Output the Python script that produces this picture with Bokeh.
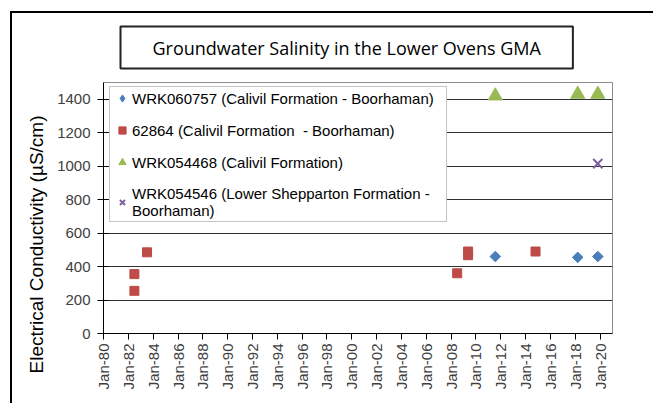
import math
import pandas as pd
from bokeh.plotting import figure
from bokeh.models import (FixedTicker, DatetimeTickFormatter, Title, Range1d,
                          ColumnDataSource, Legend, LegendItem)
from bokeh.embed import file_html
from bokeh.resources import INLINE

# ---------------- data ----------------
title_text = "Groundwater Salinity in the Lower Ovens GMA"
y_label = "Electrical Conductivity (\u00b5S/cm)"

s1_name = "WRK060757 (Calivil Formation - Boorhaman)"
s1_dates = ["2011-07-25", "2018-03-15", "2019-10-27"]
s1_vals = [460, 455, 460]

s2_name = "62864 (Calivil Formation  - Boorhaman)"
s2_dates = ["1982-06-28", "1982-06-28", "1983-07-05", "2008-06-28", "2009-05-15", "2009-05-15", "2014-10-20"]
s2_vals = [355, 255, 485, 360, 490, 468, 490]

s3_name = "WRK054468 (Calivil Formation)"
s3_dates = ["2011-07-25", "2018-03-15", "2019-10-27"]
s3_vals = [1420, 1430, 1430]

s4_name = "WRK054546 (Lower Shepparton Formation -\nBoorhaman)"
s4_dates = ["2019-10-27"]
s4_vals = [1015]

x_tick_years = list(range(1980, 2021, 2))
y_ticks = [0, 200, 400, 600, 800, 1000, 1200, 1400]
x_start, x_end = "1980-01-01", "2021-01-01"
y_start, y_end = 0, 1500

# ---------------- figure ----------------
def ms(d):
    return pd.Timestamp(d).value / 1e6

p = figure(width=653, height=403, x_axis_type="datetime", output_backend="svg",
           toolbar_location=None,
           x_range=Range1d(ms(x_start), ms(x_end)), y_range=Range1d(y_start, y_end),
           min_border_left=103, min_border_right=41, min_border_top=82, min_border_bottom=70)
p.background_fill_color = "white"
p.border_fill_alpha = 0
# outer frame lines (top and left) of the chart area
p.styles = {
    "background-color": "white",
    "background-image": "linear-gradient(black, black), linear-gradient(black, black)",
    "background-size": "2px 100%, 100% 2px",
    "background-position": "10px 11px, 10px 11px",
    "background-repeat": "no-repeat",
}
p.outline_line_color = "#8c8c8c"
p.outline_line_width = 1

p.xgrid.visible = False
p.ygrid.ticker = FixedTicker(ticks=y_ticks[1:])
p.ygrid.grid_line_color = "#303030"
p.ygrid.grid_line_width = 1

p.xaxis.ticker = FixedTicker(ticks=[ms(f"{y}-01-01") for y in x_tick_years])
fmt = "%b-%y"
p.xaxis.formatter = DatetimeTickFormatter(milliseconds=fmt, seconds=fmt, minsec=fmt, minutes=fmt,
                                          hourmin=fmt, hours=fmt, days=fmt, months=fmt, years=fmt)
p.xaxis.major_label_orientation = math.pi / 2
p.xaxis.major_tick_in = 0
p.xaxis.major_tick_out = 6
p.xaxis.minor_tick_line_color = None
p.xaxis.major_label_standoff = 4

p.yaxis.ticker = FixedTicker(ticks=y_ticks)
p.yaxis.major_tick_in = 5
p.yaxis.major_tick_out = 6
p.yaxis.minor_tick_line_color = None
p.yaxis.major_label_standoff = 7

for ax in (p.xaxis, p.yaxis):
    ax.axis_line_color = "black"
    ax.major_tick_line_color = "black"
    ax.major_label_text_font = "Liberation Sans"
    ax.major_label_text_font_size = "15px"
    ax.major_label_text_color = "#404040"

# ---------------- series ----------------
def src(dates, vals):
    return ColumnDataSource(dict(x=pd.to_datetime(dates), y=vals))

c1, c2, c3, c4 = "#4a7ebb", "#be4b48", "#98b954", "#7d60a0"
r1 = p.scatter("x", "y", source=src(s1_dates, s1_vals), marker="square", angle=math.pi / 4,
               size=7.5, color=c1)
# legend-only swatch for series 1 (diamond shape); no visible point
r1_key = p.scatter("x", "y", source=ColumnDataSource(dict(x=[float("nan")], y=[float("nan")])),
                   marker="diamond", size=10, color=c1)
r2 = p.scatter("x", "y", source=src(s2_dates, s2_vals), marker="square", size=9, color=c2)
r3 = p.scatter("x", "y", source=src(s3_dates, s3_vals), marker="triangle", size=14, color=c3)
r4 = p.scatter("x", "y", source=src(s4_dates, s4_vals), marker="x", size=13, line_width=2, color=c4)

lg = Legend(items=[LegendItem(label=s1_name, renderers=[r1_key]),
                   LegendItem(label=s2_name, renderers=[r2]),
                   LegendItem(label=s3_name, renderers=[r3]),
                   LegendItem(label=s4_name, renderers=[r4])])
lg.location = (6, 111)
lg.label_text_font = "Liberation Sans"
lg.label_text_font_size = "15px"
lg.label_text_color = "black"
lg.border_line_color = "#8c8c8c"
lg.border_line_width = 1
lg.background_fill_alpha = 1
lg.padding = 2
lg.margin = 0
lg.spacing = 14
lg.glyph_width = 20
lg.glyph_height = 18
lg.label_height = 18
lg.label_standoff = 0
lg.label_width = 312
p.add_layout(lg, "center")

# ---------------- title (boxed) and y-axis label ----------------
# padding order as used by bokehjs here: (left, right, top, bottom)
p.title = Title(text=title_text, align="left", offset=17, standoff=28,
                text_font="Open Sans", text_font_size="18px", text_font_style="normal",
                text_color="black", border_line_color="#222222", border_line_width=2,
                background_fill_color="white", padding=(32, 32, 9, 9))
p.add_layout(Title(text=y_label, align="left", offset=-40, standoff=16,
                   text_font="Liberation Sans", text_font_size="19px", text_font_style="normal",
                   text_color="black"), "left")

open("out.html", "w").write(file_html(p, INLINE))
